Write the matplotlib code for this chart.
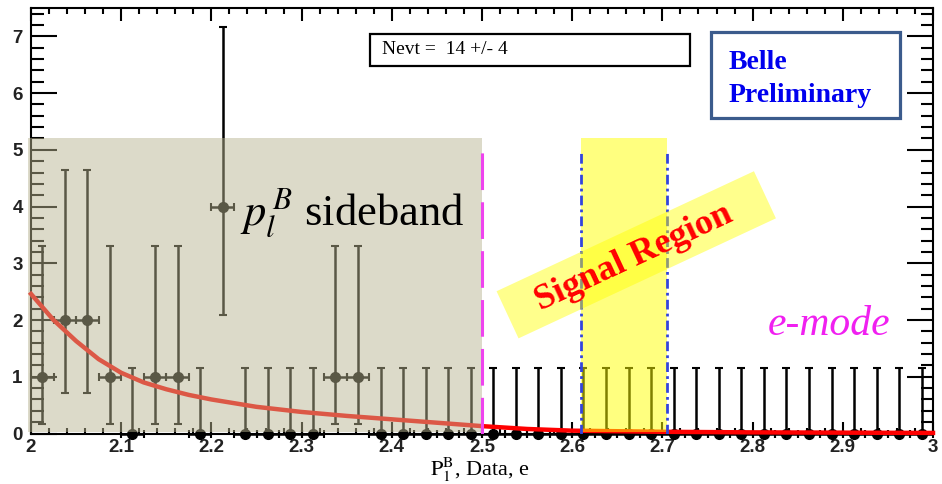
import numpy as np
import matplotlib.pyplot as plt
import matplotlib.patches as patches
import matplotlib.transforms as transforms
from matplotlib.ticker import MultipleLocator, FuncFormatter

plt.rcParams['mathtext.fontset'] = 'stix'
serif = 'Liberation Serif'
sans = 'Liberation Sans'

# P_l^B histogram, 40 bins of 0.025 from 2 to 3
bin_lo = 2.0
bin_width = 0.025
counts = [1, 2, 2, 1, 0, 1, 1, 0, 4, 0,
          0, 0, 0, 1, 1, 0, 0, 0, 0, 0,
          0, 0, 0, 0, 0, 0, 0, 0, 0, 0,
          0, 0, 0, 0, 0, 0, 0, 0, 0, 0]
# poisson errors (down, up) for each count value
poisson_err = {0: (0.0, 1.15), 1: (0.83, 2.30), 2: (1.29, 2.64), 4: (1.91, 3.16)}

# background fit curve
fit_x = [2.000, 2.025, 2.050, 2.075, 2.100, 2.125, 2.150, 2.175, 2.200,
         2.250, 2.300, 2.350, 2.400, 2.450, 2.500, 2.550, 2.600, 2.700,
         2.800, 2.900, 3.000]
fit_y = [2.46, 2.00, 1.63, 1.31, 1.07, 0.90, 0.78, 0.68, 0.60,
         0.47, 0.38, 0.31, 0.25, 0.19, 0.13, 0.08, 0.05, 0.03,
         0.02, 0.015, 0.01]

sideband = (2.0, 2.5)
signal = (2.61, 2.705)
band_top = 5.2
line_top = 5.0
nevt_text = 'Nevt =  14 +/- 4'

centers = bin_lo + bin_width * (np.arange(len(counts)) + 0.5)
err_lo = [poisson_err[c][0] for c in counts]
err_hi = [poisson_err[c][1] for c in counts]

fig = plt.figure(figsize=(9.42, 4.84), dpi=100)
ax = fig.add_axes([31/942, 50.5/484, 902/942, 425.5/484])

eb = ax.errorbar(centers, counts, xerr=bin_width/2, yerr=[err_lo, err_hi],
                 fmt='o', color='black', ms=7, elinewidth=1.8,
                 capsize=2.9, capthick=1.5, zorder=2)
for art in eb.get_children():
    art.set_clip_on(False)

ax.plot(fit_x, fit_y, color='red', lw=3.2, zorder=3, clip_on=False)

# shaded sideband and signal window drawn over the data
ax.add_patch(patches.Rectangle((sideband[0] - 0.003, 0.03),
                               sideband[1] - sideband[0] + 0.003, band_top - 0.03,
                               fc=(185/255, 180/255, 145/255), alpha=0.49,
                               lw=0, zorder=4, clip_on=False))
ax.add_patch(patches.Rectangle((signal[0], 0.03), signal[1] - signal[0],
                               band_top - 0.03, fc='yellow', alpha=0.5,
                               lw=0, zorder=4))

ax.plot([sideband[1]] * 2, [0, line_top], color='#ee44ee', lw=2.2,
        dashes=(12, 4), zorder=5)
for xs in signal:
    ax.plot([xs, xs], [0, line_top], color='#3344dd', lw=2,
            dashes=(3.5, 1.5, 1, 1.5), zorder=5)

# rotated "Signal Region" tag
sr_x, sr_y = 2.671, 3.15
tag = patches.Rectangle((-142, -26), 284, 52, fc='yellow', alpha=0.45, lw=0,
                        transform=transforms.Affine2D().rotate_deg(25)
                        + transforms.ScaledTranslation(sr_x, sr_y, ax.transData),
                        zorder=6)
ax.add_artist(tag)
ax.text(sr_x - 0.003, sr_y - 0.05, 'Signal Region', rotation=25,
        rotation_mode='anchor', ha='center', va='center', color='red',
        fontsize=26, fontweight='bold', family=serif, zorder=7)

ax.text(2.2317, 3.67, r'$p_l^{\,B}$ sideband', family=serif, fontsize=32,
        va='baseline', ha='left', zorder=7)
ax.text(2.8847, 1.91, 'e-mode', family=serif, style='italic', fontsize=30,
        color='#f020f0', ha='center', va='center', zorder=7)

# Nevt box
ax.add_patch(patches.Rectangle((2.3758, 6.47), 0.3548, 0.58, fc='white',
                               ec='black', lw=1.6, zorder=6))
ax.text(2.389, 6.76, nevt_text, family=serif, fontsize=14,
        va='center', ha='left', zorder=7)

# Belle Preliminary box
ax.add_patch(patches.Rectangle((2.7539, 5.555), 0.2095, 1.515, fc='white',
                               ec='#3b5b8c', lw=2.3, zorder=6))
ax.text(2.7738, 6.54, 'Belle', family=serif, fontsize=20, fontweight='bold',
        color='#0000ee', va='center', ha='left', zorder=7)
ax.text(2.7738, 5.96, 'Preliminary', family=serif, fontsize=20,
        fontweight='bold', color='#0000ee', va='center', ha='left', zorder=7)

ax.set_xlim(2, 3)
ax.set_ylim(0, 7.5)
ax.xaxis.set_major_locator(MultipleLocator(0.1))
ax.xaxis.set_minor_locator(MultipleLocator(0.02))
ax.yaxis.set_major_locator(MultipleLocator(1))
ax.yaxis.set_minor_locator(MultipleLocator(0.2))
ax.xaxis.set_major_formatter(FuncFormatter(lambda v, p: '%g' % round(v, 3)))
ax.tick_params(which='both', direction='in', top=True, right=True,
               width=1.5, color='black')
ax.tick_params(axis='y', which='major', length=19, pad=6)
ax.tick_params(axis='y', which='minor', length=9)
ax.tick_params(axis='x', which='major', length=9, pad=4)
ax.tick_params(axis='x', which='minor', length=4.5)
for lab in ax.get_xticklabels() + ax.get_yticklabels():
    lab.set_fontfamily(sans)
    lab.set_fontweight('bold')
    lab.set_fontsize(13.5)
    lab.set_color('#222222')
for sp in ax.spines.values():
    sp.set_linewidth(1.5)

ax.set_xlabel(r'$\mathrm{P}_{1}^{\mathrm{B}}$, Data, e', family=serif,
              fontsize=16)
ax.xaxis.set_label_coords(0.498, -0.052)

fig.savefig('out.png', dpi=100)
